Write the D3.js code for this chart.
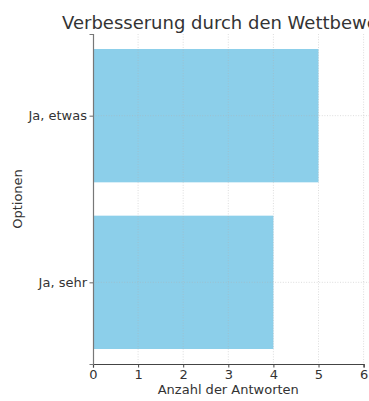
<!DOCTYPE html>
<html><head><meta charset="utf-8">
<script src="https://cdn.jsdelivr.net/npm/d3@7"></script>
<style>html,body{margin:0;padding:0;background:#fff;overflow:hidden}</style>
</head><body>
<script>
const categories = ["Ja, sehr", "Ja, etwas"];
const values = [4, 5];
const xTicks = [0, 1, 2, 3, 4, 5, 6];
const title = "Verbesserung durch den Wettbewerb";
const xLabel = "Anzahl der Antworten";
const yLabel = "Optionen";

(function () {
const W = 369, H = 401;
const svg = d3.select("body").append("svg").attr("width", W).attr("height", H)
  .style("font-family", "DejaVu Sans, sans-serif");

const mLeft = 93, mTop = 34, mBottom = 364;
const x = d3.scaleLinear().domain([0, 6]).range([mLeft, mLeft + 6 * 45.1]);
const y = d3.scaleLinear().domain([-0.49, 1.49]).range([mBottom, mTop]);
const txt = "#333";
const fs = "13px";

// bars
svg.selectAll("rect.bar").data(values).join("rect")
  .attr("class", "bar")
  .attr("x", x(0))
  .attr("y", (d, i) => y(i + 0.4))
  .attr("width", d => x(d) - x(0))
  .attr("height", (d, i) => y(i - 0.4) - y(i + 0.4))
  .attr("fill", "#8ccfea");

// grid
const g = svg.append("g");
g.selectAll("line.vx").data(xTicks.slice(1)).join("line")
  .attr("x1", d => x(d)).attr("x2", d => x(d))
  .attr("y1", mTop).attr("y2", mBottom)
  .attr("stroke", "#b0b0b0").attr("stroke-opacity", 0.55)
  .attr("stroke-width", 0.8).attr("stroke-dasharray", "1,1.6");
g.selectAll("line.hy").data(categories).join("line")
  .attr("x1", mLeft).attr("x2", W)
  .attr("y1", (d, i) => y(i)).attr("y2", (d, i) => y(i))
  .attr("stroke", "#b0b0b0").attr("stroke-opacity", 0.55)
  .attr("stroke-width", 0.8).attr("stroke-dasharray", "1,1.6");

// x axis
const xa = svg.append("g").attr("transform", `translate(0,${mBottom})`)
  .call(d3.axisBottom(x).tickValues(xTicks).tickFormat(d3.format("d")).tickSizeOuter(0).tickSize(3.5).tickPadding(2.5));
xa.select(".domain").attr("stroke", "#444").attr("stroke-width", 1.2);
xa.selectAll(".tick line").attr("stroke", "#444");
xa.selectAll(".tick text").attr("fill", txt).style("font-size", fs).style("font-family", "DejaVu Sans");

// y axis
const ya = svg.append("g").attr("transform", `translate(${mLeft},0)`)
  .call(d3.axisLeft(y).tickValues([0, 1]).tickFormat((d) => categories[d]).tickSizeOuter(0).tickSize(3.5).tickPadding(2.5));
ya.select(".domain").attr("stroke", "#777").attr("stroke-width", 1.2);
ya.selectAll(".tick line").attr("stroke", "#666");
ya.selectAll(".tick text").attr("fill", txt).style("font-size", fs).style("font-family", "DejaVu Sans");

// labels
svg.append("text").attr("x", x(3)).attr("y", 394).attr("text-anchor", "middle")
  .attr("fill", txt).style("font-size", fs).text(xLabel);
svg.append("text").attr("transform", `translate(22,${(mTop + mBottom) / 2}) rotate(-90)`)
  .attr("text-anchor", "middle").attr("fill", txt).style("font-size", fs).text(yLabel);
svg.append("text").attr("x", 62).attr("y", 29).attr("fill", txt)
  .style("font-size", "18px").text(title);
})();
</script>
</body></html>
